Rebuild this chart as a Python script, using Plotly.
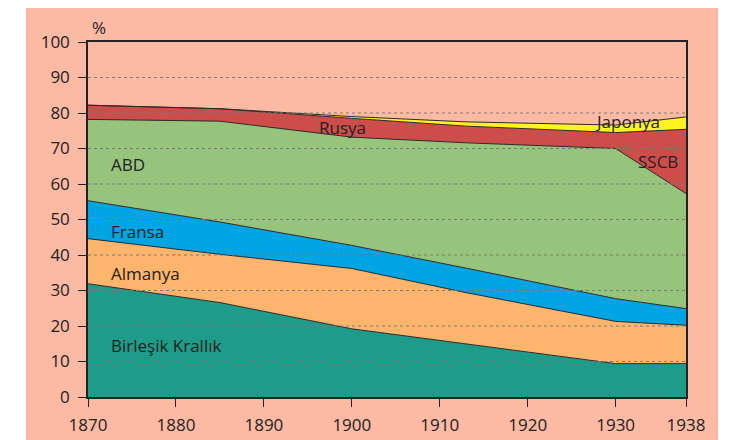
import plotly.graph_objects as go

years = [1870, 1885, 1900, 1913, 1930, 1938]
uk = [31.9, 26.6, 19.2, 14.9, 9.4, 9.4]
germany = [12.7, 13.6, 17.0, 14.5, 11.9, 10.8]
france = [10.7, 9.1, 6.5, 6.9, 6.4, 4.7]
usa = [22.9, 28.4, 30.5, 35.3, 42.3, 32.4]
russia = [4.0, 3.5, 5.3, 4.7, 4.5, 18.1]
japan = [0.0, 0.0, 0.5, 1.2, 2.1, 3.5]

series = [
    ("Birleşik Krallık", uk, "#1f9c89"),
    ("Almanya", germany, "#fdb56d"),
    ("Fransa", france, "#00a4e2"),
    ("ABD", usa, "#96c47d"),
    ("Rusya", russia, "#cc4d4a"),
    ("Japonya", japan, "#fff222"),
]

x_ticks = [1870, 1880, 1890, 1900, 1910, 1920, 1930, 1938]
y_ticks = list(range(0, 101, 10))
grid_vals = [v for v in y_ticks if 0 < v < 100]

labels = [
    ("Birleşik Krallık", 1872.4, 14.4, "left"),
    ("Almanya", 1872.4, 34.9, "left"),
    ("Fransa", 1872.4, 46.5, "left"),
    ("ABD", 1872.4, 65.6, "left"),
    ("Rusya", 1898.9, 75.8, "center"),
    ("Japonya", 1931.3, 77.6, "center"),
    ("SSCB", 1934.8, 66.2, "center"),
]

fig = go.Figure()
for name, vals, col in series:
    fig.add_trace(go.Scatter(
        x=years, y=vals, name=name, mode="lines", stackgroup="one",
        line=dict(color="#2b2b2b", width=1), fillcolor=col,
        hoverinfo="x+y+name",
    ))

for v in grid_vals:
    fig.add_shape(type="line", xref="paper", yref="y", x0=0, x1=1, y0=v, y1=v,
                  line=dict(color="#7a7a7a", width=1, dash="dot"), layer="above")

# salmon frame behind
fig.add_shape(type="rect", xref="paper", yref="paper", x0=-0.1037, x1=1.0535,
              y0=-0.3, y1=1.0986, fillcolor="#fcb9a3", line=dict(width=0), layer="below")

for text, xx, yy, anchor in labels:
    fig.add_annotation(x=xx, y=yy, text=text, showarrow=False, xanchor=anchor,
                       yanchor="middle", font=dict(size=17, color="#222222"))

fig.add_annotation(x=0.019, y=1.04, xref="paper", yref="paper", text="%",
                   showarrow=False, xanchor="center", yanchor="middle",
                   font=dict(size=17, color="#222222"))

fig.update_layout(
    width=748, height=440,
    margin=dict(l=80, r=70, t=34, b=51),
    paper_bgcolor="white", plot_bgcolor="white",
    showlegend=False,
    font=dict(family="Open Sans, Noto Sans, sans-serif", size=17, color="#222222"),
    xaxis=dict(range=[1870, 1938], tickvals=x_ticks, ticks="outside", ticklen=8,
               tickcolor="#222", showline=True, linecolor="#222", linewidth=1.5,
               mirror=True, showgrid=False, zeroline=False, ticklabelstandoff=4,
               tickfont=dict(size=17)),
    yaxis=dict(range=[0, 100], tickvals=y_ticks, ticks="outside", ticklen=8,
               tickcolor="#222", showline=True, linecolor="#222", linewidth=1.5,
               mirror=True, showgrid=False, zeroline=False, ticklabelstandoff=5,
               tickfont=dict(size=17)),
)

fig.write_html("out.html")
